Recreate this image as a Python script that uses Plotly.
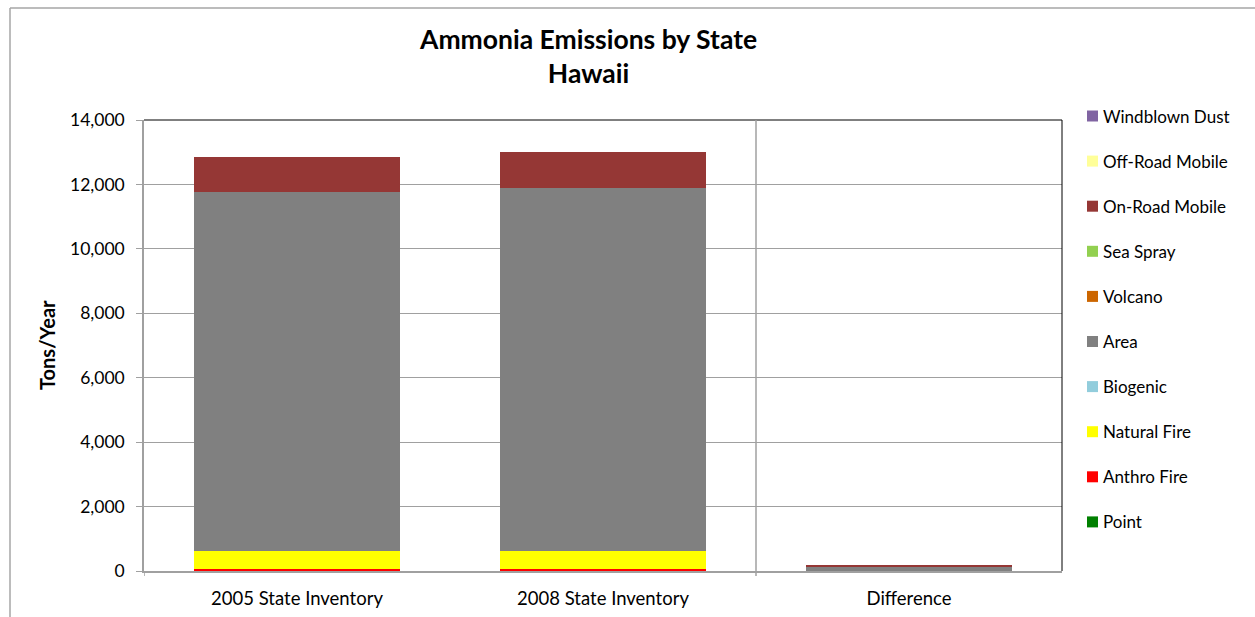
import plotly.graph_objects as go

# Inventory columns
categories = ["2005 State Inventory", "2008 State Inventory", "Difference"]

# Emissions by source sector (tons/year), stacked bottom to top
point = [0, 0, 0]
anthro_fire = [70, 70, 0]
natural_fire = [545, 545, 0]
biogenic = [0, 0, 0]
area = [11145, 11275, 130]
volcano = [0, 0, 0]
sea_spray = [0, 0, 0]
on_road_mobile = [1082, 1126, 44]
off_road_mobile = [0, 0, 0]
windblown_dust = [0, 0, 0]

y_ticks = [0, 2000, 4000, 6000, 8000, 10000, 12000, 14000]

series = [
    ("Point", point, "#008000"),
    ("Anthro Fire", anthro_fire, "#FF0000"),
    ("Natural Fire", natural_fire, "#FFFF00"),
    ("Biogenic", biogenic, "#92CDDC"),
    ("Area", area, "#808080"),
    ("Volcano", volcano, "#CC6600"),
    ("Sea Spray", sea_spray, "#92D050"),
    ("On-Road Mobile", on_road_mobile, "#953735"),
    ("Off-Road Mobile", off_road_mobile, "#FFFF99"),
    ("Windblown Dust", windblown_dust, "#8064A2"),
]

FONT = "Lato, 'Open Sans', sans-serif"

fig = go.Figure()
for name, vals, color in series:
    fig.add_trace(go.Bar(
        x=categories, y=vals, name=name,
        marker=dict(color=color, line=dict(width=0)),
        width=0.673, showlegend=False,
    ))

W, H = 1255, 617
L, R, T, B = 144, 193, 120, 46
pw = W - L - R
ph = H - T - B

def px_x(x):
    return (x - L) / pw

def px_y(y):
    return (H - B - y) / ph

shapes = [
    # outer chart frame (left and top edges)
    dict(type="line", xref="paper", yref="paper", x0=px_x(10), x1=px_x(1300),
         y0=px_y(8), y1=px_y(8), line=dict(color="#A6A6A6", width=1.5)),
    dict(type="line", xref="paper", yref="paper", x0=px_x(10), x1=px_x(10),
         y0=px_y(8), y1=px_y(640), line=dict(color="#A6A6A6", width=1.5)),
    # plot frame top and right
    dict(type="line", xref="paper", yref="paper", x0=0, x1=1, y0=1, y1=1,
         line=dict(color="#000000", width=1)),
    dict(type="line", xref="paper", yref="paper", x0=1, x1=1, y0=0, y1=1,
         line=dict(color="#000000", width=1)),
    # separator before the difference column
    dict(type="line", xref="x", yref="paper", x0=1.5, x1=1.5, y0=px_y(576), y1=1,
         line=dict(color="#A0A0A0", width=1.5)),
    dict(type="line", xref="x", yref="paper", x0=-0.5, x1=-0.5, y0=px_y(576), y1=0,
         line=dict(color="#A0A0A0", width=1.5)),
]

annotations = [
    dict(text="<b>Ammonia Emissions by State</b><br><b>Hawaii</b>",
         xref="paper", yref="paper", x=px_x(588), y=px_y(21),
         xanchor="center", yanchor="top", showarrow=False,
         font=dict(family=FONT, size=26.5), align="center"),
    dict(text="<b>Tons/Year</b>", xref="paper", yref="paper",
         x=px_x(47), y=px_y(345), xanchor="center", yanchor="middle",
         textangle=-90, showarrow=False, font=dict(family=FONT, size=20)),
]

# legend, top entry first (reverse of stacking order)
leg_top, leg_step = 116, 45.1
for k, (name, vals, color) in enumerate(reversed(series)):
    cy = leg_top + k * leg_step
    shapes.append(dict(type="rect", xref="paper", yref="paper",
                       x0=px_x(1087), x1=px_x(1098), y0=px_y(cy - 5.5), y1=px_y(cy + 5.5),
                       fillcolor=color, line=dict(width=0)))
    annotations.append(dict(text=name, xref="paper", yref="paper",
                            x=px_x(1101), y=px_y(cy), xanchor="left", yanchor="middle",
                            showarrow=False, font=dict(family=FONT, size=17)))

fig.update_layout(
    width=W, height=H,
    margin=dict(l=L, r=R, t=T, b=B),
    paper_bgcolor="white", plot_bgcolor="white",
    barmode="stack", bargap=0.327,
    font=dict(family=FONT, size=17, color="#000000"),
    showlegend=False,
    xaxis=dict(
        type="category", range=[-0.5, 2.5], automargin=False,
        showline=True, linecolor="#A0A0A0", linewidth=1.5,
        ticks="", showgrid=False, ticklabelstandoff=10,
        tickfont=dict(family=FONT, size=18.5),
    ),
    yaxis=dict(
        range=[0, 14000], tickvals=y_ticks, tickformat=",", automargin=False,
        showline=True, linecolor="#A0A0A0", linewidth=1.5,
        ticks="outside", ticklen=6, tickcolor="#A0A0A0",
        showgrid=True, gridcolor="#A0A0A0", gridwidth=1,
        zeroline=False, tickfont=dict(family=FONT, size=17.5), ticklabelstandoff=8,
    ),
    shapes=shapes,
    annotations=annotations,
)

fig.write_html("out.html")
